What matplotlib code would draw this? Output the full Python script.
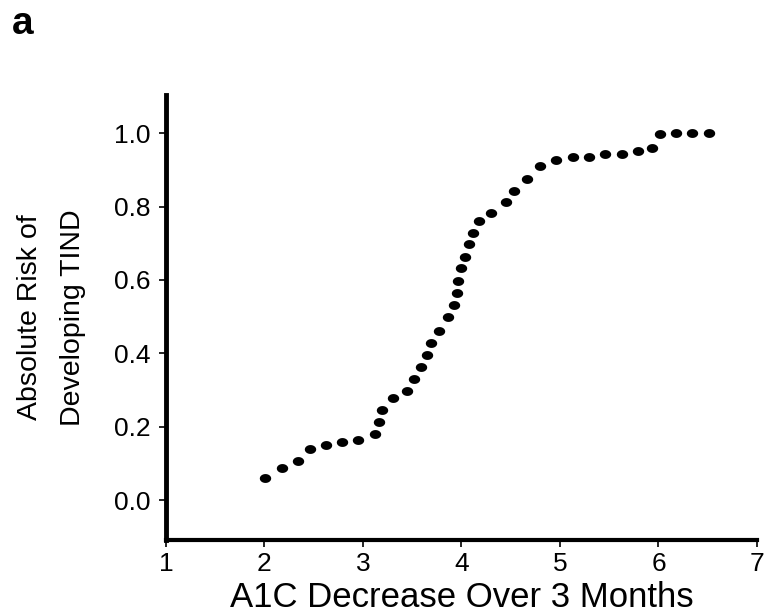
import numpy as np
import matplotlib.pyplot as plt
from matplotlib.path import Path

# values
a1c_drop = [2.01, 2.18, 2.34, 2.46, 2.62, 2.79, 2.95, 3.12, 3.16, 3.19,
            3.31, 3.45, 3.52, 3.59, 3.65, 3.69, 3.77, 3.86, 3.92, 3.95,
            3.97, 4.00, 4.04, 4.08, 4.12, 4.18, 4.30, 4.45, 4.53, 4.67,
            4.80, 4.96, 5.13, 5.30, 5.46, 5.63, 5.79, 5.93, 6.02, 6.18,
            6.34, 6.51]
abs_risk = [0.059, 0.086, 0.106, 0.138, 0.150, 0.159, 0.163, 0.180, 0.212, 0.245,
            0.277, 0.297, 0.329, 0.363, 0.395, 0.428, 0.460, 0.498, 0.531, 0.565,
            0.598, 0.632, 0.663, 0.697, 0.729, 0.760, 0.782, 0.812, 0.843, 0.876,
            0.910, 0.928, 0.935, 0.935, 0.943, 0.943, 0.951, 0.960, 0.999, 1.0,
            1.0, 1.0]
xticks = [1, 2, 3, 4, 5, 6, 7]
yticks = [0.0, 0.2, 0.4, 0.6, 0.8, 1.0]

plt.rcParams['font.family'] = ['Liberation Sans', 'DejaVu Sans']

# dots in the original are a bit wider than tall
t = np.linspace(0, 2 * np.pi, 40)
ellipse = Path(np.column_stack([1.28 * np.cos(t), np.sin(t)]), closed=True)

fig = plt.figure(figsize=(7.68, 6.13), dpi=100)
ax = fig.add_axes([0.2161, 0.1199, 0.7695, 0.7251])

ax.plot(a1c_drop, abs_risk, linestyle='none', marker=ellipse, color='black',
        markersize=8.2, markeredgewidth=0)

ax.set_xlim(1, 7)
ax.set_ylim(-0.1076, 1.104)
ax.set_xticks(xticks)
ax.set_yticks(yticks)
ax.set_yticklabels(['%.1f' % v for v in yticks])

for side in ['top', 'right']:
    ax.spines[side].set_visible(False)
ax.spines['left'].set_linewidth(3.5)
ax.spines['bottom'].set_linewidth(3)
ax.tick_params(axis='both', direction='out', length=5, width=1.2)
ax.tick_params(axis='y', labelsize=19, pad=6)
ax.tick_params(axis='x', labelsize=19, pad=4)

ax.set_xlabel('A1C Decrease Over 3 Months', fontsize=25)
ax.xaxis.set_label_coords(0.5, -0.093)
ax.set_ylabel('Absolute Risk of\nDeveloping TIND', fontsize=20.5, linespacing=1.85)
ax.yaxis.set_label_coords(-0.135, 0.5)

fig.text(0.016, 0.945, 'a', fontsize=28, fontweight='bold')

fig.savefig('out.png', dpi=100)
